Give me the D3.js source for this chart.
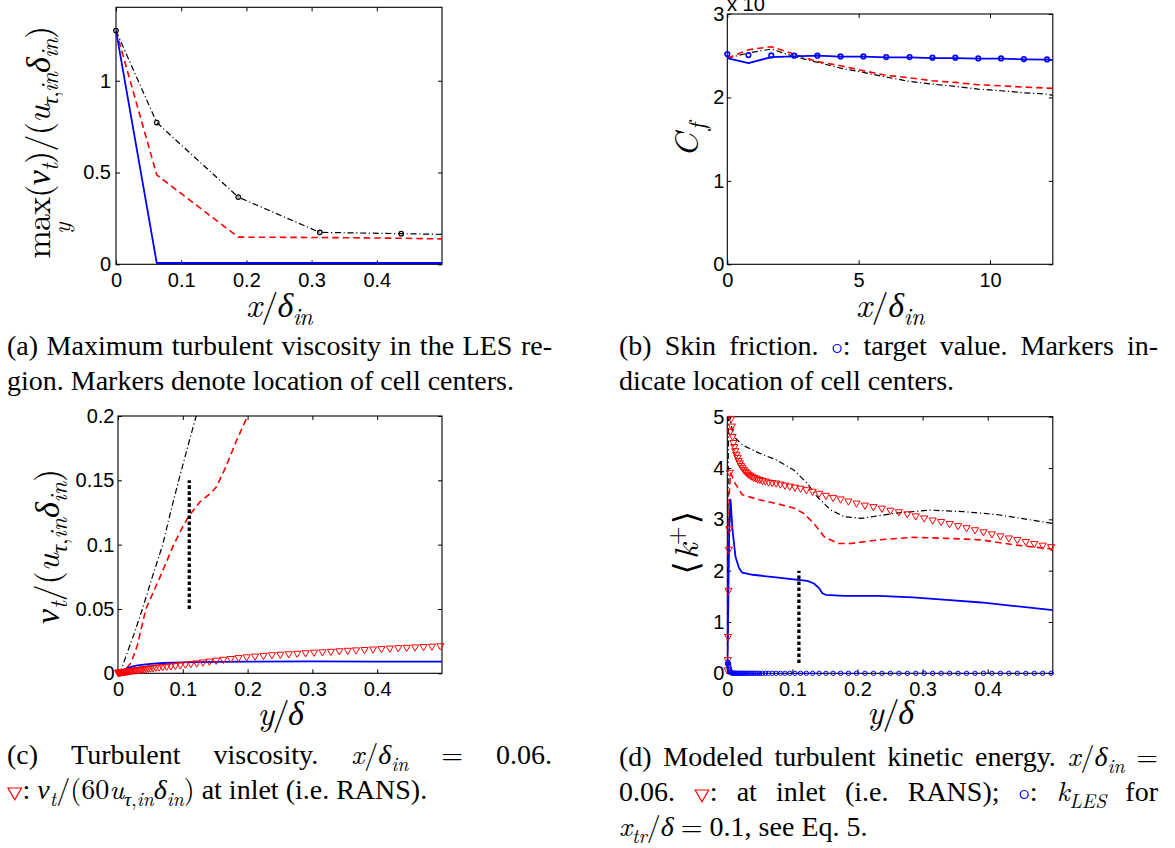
<!DOCTYPE html>
<html>
<head>
<meta charset="utf-8">
<script src="https://cdn.jsdelivr.net/npm/d3@7"></script>
<style>
  body { margin: 0; background: #fff; }
  svg { display: block; }
</style>
</head>
<body>
<svg id="fig" width="1175" height="848"></svg>
<script>
// ---------- (a) maximum turbulent viscosity vs x/delta_in ----------
const nuX          = [0, 0.0625, 0.1875, 0.3125, 0.4375, 0.5];
const nuMaxDashDot = [1.273, 0.772, 0.366, 0.174, 0.167, 0.163];
const nuMaxDashed  = [1.273, 0.487, 0.148, 0.146, 0.142, 0.138];
const nuMaxSolid   = [1.273, 0.007, 0.007, 0.007, 0.007, 0.007];
const cellCentersA = [0, 0.0625, 0.1875, 0.3125, 0.4375];
const cellNuMax    = [1.273, 0.772, 0.366, 0.174, 0.167];

// ---------- (b) skin friction (x 10^-3) ----------
const cfXCells  = [0, 0.805, 1.675, 2.545, 3.43, 4.31, 5.18, 6.05, 6.94, 7.81, 8.68, 9.55, 10.42, 11.29, 12.17];
const cfXLine   = [0, 0.805, 1.675, 2.545, 3.43, 4.31, 5.18, 6.05, 6.94, 7.81, 8.68, 9.55, 10.42, 11.29, 12.17, 12.39];
const cfTarget  = [2.52, 2.508, 2.504, 2.50, 2.50, 2.492, 2.492, 2.484, 2.484, 2.476, 2.476, 2.468, 2.468, 2.46, 2.456];
const cfSolid   = [2.472, 2.412, 2.484, 2.492, 2.5, 2.488, 2.488, 2.48, 2.48, 2.472, 2.472, 2.464, 2.464, 2.456, 2.452, 2.448];
const cfDashed  = [2.47, 2.572, 2.608, 2.52, 2.43, 2.38, 2.32, 2.265, 2.235, 2.2, 2.18, 2.152, 2.14, 2.124, 2.112, 2.108];
const cfDashDot = [2.472, 2.532, 2.58, 2.49, 2.42, 2.352, 2.3, 2.244, 2.192, 2.16, 2.132, 2.1, 2.08, 2.056, 2.04, 2.024];

// ---------- (c) turbulent viscosity profiles at x/delta_in = 0.06 ----------
const nuYDashDot = [0, 0.005, 0.015, 0.025, 0.0377, 0.053, 0.069, 0.081, 0.0937, 0.107, 0.1206, 0.135];
const nuDashDot  = [0, 0.003, 0.017, 0.031, 0.05, 0.075, 0.1, 0.125, 0.15, 0.175, 0.2, 0.225];
const nuYDashed  = [0, 0.01, 0.02, 0.03, 0.043, 0.065, 0.086, 0.1, 0.109, 0.126, 0.143, 0.152, 0.166, 0.183, 0.2, 0.21];
const nuDashed   = [0, 0.002, 0.008, 0.022, 0.05, 0.075, 0.1, 0.114, 0.122, 0.133, 0.14, 0.145, 0.16, 0.181, 0.2, 0.212];
const nuYSolid   = [0, 0.005, 0.01, 0.02, 0.03, 0.05, 0.07, 0.1, 0.15, 0.2, 0.3, 0.4, 0.5];
const nuSolid    = [0, 0.0015, 0.003, 0.005, 0.0062, 0.0073, 0.008, 0.0085, 0.0089, 0.0091, 0.0092, 0.0091, 0.009];

// RANS inlet grid (wall-normal cell centres, y/delta)
const ransY = [0.0003, 0.0007, 0.0012, 0.0018, 0.0024, 0.0031, 0.0039, 0.0048, 0.0058, 0.0069,
  0.0081, 0.0094, 0.0108, 0.0123, 0.0139, 0.0156, 0.0174, 0.0193, 0.0213, 0.0234,
  0.0256, 0.0279, 0.0303, 0.0328, 0.0354, 0.0381, 0.0409, 0.0438, 0.0468,
  0.0500, 0.0540, 0.0585, 0.0635, 0.0690, 0.0750, 0.0815, 0.0885, 0.0960, 0.1040,
  0.1125, 0.1215, 0.1310, 0.1410, 0.1515, 0.1625, 0.1740, 0.1860, 0.1985, 0.2115,
  0.2245, 0.2375, 0.2505, 0.2635, 0.2765, 0.2895, 0.3025, 0.3155, 0.3285, 0.3415,
  0.3545, 0.3675, 0.3805, 0.3935, 0.4065, 0.4195, 0.4325, 0.4455, 0.4585, 0.4715,
  0.4845, 0.4975];
// nu_t / (60 u_tau,in delta_in) at the inlet
const ransNu = [0.00002, 0.00005, 0.00008, 0.00013, 0.00017, 0.00022, 0.00027, 0.00034, 0.00041, 0.00048,
  0.00057, 0.00066, 0.00076, 0.00086, 0.00097, 0.00109, 0.00122, 0.00135, 0.00149, 0.00164,
  0.00179, 0.00195, 0.00212, 0.00229, 0.00247, 0.00266, 0.00286, 0.00306, 0.00327,
  0.0035, 0.0037, 0.0040, 0.0042, 0.0045, 0.0048, 0.0051, 0.0055, 0.0059, 0.0064,
  0.0069, 0.0074, 0.0081, 0.0088, 0.0095, 0.0102, 0.0108, 0.0115, 0.0121, 0.0127,
  0.0132, 0.0137, 0.0141, 0.0145, 0.0149, 0.0153, 0.0157, 0.0160, 0.0164, 0.0168,
  0.0172, 0.0175, 0.0178, 0.0182, 0.0185, 0.0189, 0.0192, 0.0195, 0.0198, 0.0201,
  0.0204, 0.0207];
// <k+> at the inlet
const ransK = [0.05, 0.25, 0.7, 1.6, 2.4, 2.8, 3.9, 4.7, 4.95, 4.8,
  4.6, 4.48, 4.4, 4.32, 4.25, 4.19, 4.13, 4.08, 4.03, 3.99,
  3.95, 3.92, 3.89, 3.86, 3.84, 3.82, 3.80, 3.79, 3.77,
  3.76, 3.74, 3.73, 3.71, 3.70, 3.69, 3.67, 3.65, 3.63, 3.61,
  3.59, 3.56, 3.53, 3.49, 3.45, 3.41, 3.38, 3.34, 3.30, 3.26,
  3.23, 3.20, 3.16, 3.13, 3.09, 3.05, 3.01, 2.97, 2.94, 2.90,
  2.86, 2.82, 2.78, 2.74, 2.70, 2.66, 2.62, 2.59, 2.55, 2.51,
  2.48, 2.45];
// k_LES for x_tr/delta = 0.1
const kLes = [0.18, 0.2, 0.21, 0.19, 0.15, 0.1, 0.06, 0.03, 0.015, 0.005,
  0.002, 0, 0, 0, 0, 0, 0, 0, 0, 0,
  0, 0, 0, 0, 0, 0, 0, 0, 0,
  0, 0, 0, 0, 0, 0, 0, 0, 0, 0,
  0, 0, 0, 0, 0, 0, 0, 0, 0, 0,
  0, 0, 0, 0, 0, 0, 0, 0, 0, 0,
  0, 0, 0, 0, 0, 0, 0, 0, 0, 0,
  0, 0];

// ---------- (d) modelled turbulent kinetic energy ----------
const kYDashDot = [0, 0.0008, 0.0015, 0.0025, 0.005, 0.008, 0.0126, 0.023, 0.049, 0.075, 0.102, 0.123, 0.138, 0.159, 0.18, 0.206, 0.259, 0.311, 0.363, 0.416, 0.5];
const kDashDot  = [0, 2.0, 4.2, 5.6, 4.9, 4.72, 4.58, 4.45, 4.29, 4.16, 3.96, 3.70, 3.44, 3.18, 3.05, 3.02, 3.12, 3.18, 3.15, 3.09, 2.92];
const kYDashed  = [0, 0.001, 0.002, 0.003, 0.005, 0.007, 0.012, 0.023, 0.049, 0.075, 0.102, 0.117, 0.133, 0.149, 0.17, 0.19, 0.232, 0.285, 0.337, 0.39, 0.442, 0.5];
const kDashed   = [0, 1.2, 2.6, 3.5, 3.9, 3.85, 3.7, 3.48, 3.38, 3.31, 3.22, 3.12, 2.92, 2.66, 2.53, 2.53, 2.60, 2.65, 2.63, 2.60, 2.50, 2.42];
const kYSolid   = [0, 0.001, 0.002, 0.003, 0.005, 0.008, 0.0126, 0.018, 0.023, 0.039, 0.075, 0.102, 0.123, 0.133, 0.141, 0.146, 0.151, 0.18, 0.232, 0.285, 0.337, 0.39, 0.442, 0.5];
const kSolid    = [0, 0.8, 1.9, 2.8, 3.38, 2.79, 2.27, 2.05, 1.96, 1.92, 1.87, 1.83, 1.80, 1.75, 1.66, 1.56, 1.53, 1.51, 1.51, 1.48, 1.43, 1.38, 1.31, 1.23];

// interface location marker x_tr
const xTr = 0.11;
const trNuRange = [0.05, 0.15];
const trKRange  = [0.2, 2.0];

// tick values
const ticksA_x = [0, 0.1, 0.2, 0.3, 0.4];
const ticksA_y = [0, 0.5, 1];
const ticksB_x = [0, 5, 10];
const ticksB_y = [0, 1, 2, 3];
const ticksC_y = [0, 0.05, 0.1, 0.15, 0.2];
const ticksD_y = [0, 1, 2, 3, 4, 5];

// captions ($...$ = math)
const captionA = [
  { t: "(a) Maximum turbulent viscosity in the LES re-", j: true },
  { t: "gion. Markers denote location of cell centers.", j: false }];
const captionB = [
  { t: "(b) Skin friction. ○: target value. Markers in-", j: true },
  { t: "dicate location of cell centers.", j: false }];
const captionC = [
  { t: "(c) Turbulent viscosity. $x/δ_{in}$ $=$ 0.06.", j: true },
  { t: "▽: $ν_t/(60u_{τ,in}δ_{in})$ at inlet (i.e. RANS).", j: false }];
const captionD = [
  { t: "(d) Modeled turbulent kinetic energy. $x/δ_{in}$ $=$", j: true },
  { t: "0.06. ▽: at inlet (i.e. RANS); ○: $k_{LES}$ for", j: true },
  { t: "$x_{tr}/δ$ $=$ 0.1, see Eq. 5.", j: false }];

// ================= drawing =================
const TEXT_FONT = '"Liberation Serif", monospace';
const MATH_FONT = '"Latin Modern Roman", monospace';
const GREEK_FONT = '"Liberation Serif", monospace';
const SANS_FONT = '"Liberation Sans", monospace';
const FS_TICK = 20, FS_LAB = 34, FS_CAP = 28;
const RED = "#ff0000", BLUE = "#0000ff";
const isGreek = c => /[\u0370-\u03FF]/.test(c);

const svg = d3.select("#fig");
const defs = svg.append("defs");
let clipN = 0;

function panel(o) {
  const x = d3.scaleLinear().domain(o.xd).range([o.x0, o.x1]);
  const y = d3.scaleLinear().domain(o.yd).range([o.y1, o.y0]);
  const g = svg.append("g");
  const id = "clip" + (clipN++);
  defs.append("clipPath").attr("id", id).append("rect")
    .attr("x", o.x0).attr("y", o.y0).attr("width", o.x1 - o.x0).attr("height", o.y1 - o.y0);
  const style = s => {
    s.attr("font-family", null).attr("font-size", null);
    s.select(".domain").remove();
    s.selectAll("line").attr("stroke", "#000").attr("stroke-width", 1);
    s.selectAll("text").attr("fill", "#000")
      .style("font-family", SANS_FONT).style("font-size", FS_TICK + "px");
  };
  const none = () => "";
  g.append("g").attr("transform", `translate(0,${o.y1})`)
    .call(d3.axisBottom(x).tickValues(o.xt).tickFormat(d => String(d)).tickSize(-4).tickPadding(8.5)).call(style);
  g.append("g").attr("transform", `translate(0,${o.y0})`)
    .call(d3.axisTop(x).tickValues(o.xt).tickFormat(none).tickSize(-4)).call(style);
  g.append("g").attr("transform", `translate(${o.x0},0)`)
    .call(d3.axisLeft(y).tickValues(o.yt).tickFormat(d => String(d)).tickSize(-4).tickPadding(o.ypad)).call(style);
  g.append("g").attr("transform", `translate(${o.x1},0)`)
    .call(d3.axisRight(y).tickValues(o.yt).tickFormat(none).tickSize(-4)).call(style);
  g.append("rect").attr("x", o.x0).attr("y", o.y0).attr("width", o.x1 - o.x0).attr("height", o.y1 - o.y0)
    .attr("fill", "none").attr("stroke", "#000").attr("stroke-width", 1.1);
  const plot = g.append("g").attr("clip-path", `url(#${id})`);
  const marks = g.append("g");
  return { x, y, g, plot, marks };
}

const LINE_STYLES = {
  dashdot: { stroke: "#000", width: 1.2, dash: "6,2.7,1.2,2.7" },
  dashed:  { stroke: RED, width: 1.6, dash: "6.5,4" },
  solid:   { stroke: BLUE, width: 1.8, dash: null }
};

function drawLine(p, xs, ys, kind) {
  const st = LINE_STYLES[kind];
  const line = d3.line().x(d => p.x(d[0])).y(d => p.y(d[1]));
  p.plot.append("path").datum(d3.zip(xs, ys)).attr("d", line)
    .attr("fill", "none").attr("stroke", st.stroke).attr("stroke-width", st.width)
    .attr("stroke-dasharray", st.dash).attr("stroke-linejoin", "round");
}

function drawCircles(p, xs, ys, color, r, w) {
  p.marks.selectAll(null).data(d3.zip(xs, ys)).join("circle")
    .attr("cx", d => p.x(d[0])).attr("cy", d => p.y(d[1])).attr("r", r)
    .attr("fill", "none").attr("stroke", color).attr("stroke-width", w);
}

function drawTriangles(p, xs, ys) {
  p.marks.selectAll(null).data(d3.zip(xs, ys)).join("path")
    .attr("transform", d => `translate(${p.x(d[0])},${p.y(d[1])})`)
    .attr("d", "M-3.6,-2.9L3.6,-2.9L0,3.3Z")
    .attr("fill", "none").attr("stroke", RED).attr("stroke-width", 1);
}

function drawTrLine(p, xv, range) {
  p.plot.append("path").datum([[xv, range[0]], [xv, range[1]]])
    .attr("d", d3.line().x(d => p.x(d[0])).y(d => p.y(d[1])))
    .attr("stroke", "#000").attr("stroke-width", 3.3).attr("stroke-dasharray", "3.6,2.4").attr("fill", "none");
}

// ---------- small math-text renderer: one <text> per run of uniform style ----------
const isLetter = c => /[A-Za-z\u0370-\u03FF]/.test(c);
function parseMath(str) {
  const runs = [];
  let math = false;
  const seg = (t, style, shift, m) => {
    const last = runs[runs.length - 1];
    if (last && !last.marker && last.style === style && last.shift === shift && last.m === m) last.t += t;
    else runs.push({ t, style, shift, m });
  };
  for (let i = 0; i < str.length; i++) {
    const c = str[i];
    if (c === "$") { math = !math; continue; }
    if (c === "▽" || c === "○") { runs.push({ marker: c }); continue; }
    if (math && str.startsWith("\\max", i)) { seg("max", "r", "base", "m"); i += 3; continue; }
    if (math && (c === "_" || c === "^")) {
      let grp;
      if (str[i + 1] === "{") { const j = str.indexOf("}", i); grp = str.slice(i + 2, j); i = j; }
      else { grp = str[i + 1]; i++; }
      for (const ch of grp) seg(ch, isLetter(ch) ? "i" : "r", c === "_" ? "sub" : "sup", isGreek(ch) ? "g" : "m");
      continue;
    }
    seg(c, math && isLetter(c) ? "i" : "r", "base", math ? (isGreek(c) ? "g" : "m") : "t");
  }
  return runs;
}

const FONT_OF = { t: TEXT_FONT, m: MATH_FONT, g: GREEK_FONT };

function renderMath(parent, str, fs, ls) {
  const g = parent.append("g");
  let cx = 0;
  parseMath(str).forEach(r => {
    if (r.marker === "▽") {
      g.append("path").attr("d", `M${cx + 1},${-11}L${cx + 14.5},${-11}L${cx + 7.75},${0.8}Z`)
        .attr("fill", "none").attr("stroke", RED).attr("stroke-width", 1.2);
      cx += 15.5; return;
    }
    if (r.marker === "○") {
      g.append("circle").attr("cx", cx + 5.5).attr("cy", -6.5).attr("r", 4)
        .attr("fill", "none").attr("stroke", BLUE).attr("stroke-width", 1.2);
      cx += 11; return;
    }
    const dy = r.shift === "sub" ? 0.24 * fs : r.shift === "sup" ? -0.4 * fs : 0;
    const size = r.shift === "base" ? fs : 0.7 * fs;
    const t = g.append("text").attr("x", cx).attr("y", dy).attr("fill", "#000")
      .style("font-family", FONT_OF[r.m])
      .style("font-size", size + "px")
      .style("font-style", r.style === "i" ? "italic" : "normal")
      .text(r.t);
    if (ls) t.style("letter-spacing", ls + "px");
    cx += t.node().getComputedTextLength();
  });
  return { g, width: cx };
}

// label fitted to a given length, placed centred at (cx, base); rotated if vertical
function axisLabel(str, cx, base, target, vertical, extra) {
  const holder = svg.append("g");
  let m = renderMath(holder, str, FS_LAB);
  const n = str.replace(/[\$_^{}\\]/g, "").length;
  const ls = Math.max(-1.5, Math.min(4, (target - m.width) / n));
  m.g.remove();
  m = renderMath(holder, str, FS_LAB, ls);
  m.g.attr("transform", `translate(${-m.width / 2},0)`);
  if (vertical) holder.attr("transform", `translate(${base},${cx}) rotate(-90)`);
  else holder.attr("transform", `translate(${cx},${base})`);
  if (extra) extra(m, holder, ls);
}

const capLayer = svg.append("g");
function caption(lines, x0, x1, yb, lead) {
  lines.forEach((ln, i) => {
    const y = yb + i * lead;
    const words = ln.t.split(" ").map(w => renderMath(capLayer, w, FS_CAP));
    const tot = d3.sum(words, w => w.width);
    const gap = ln.j ? (x1 - x0 - tot) / (words.length - 1) : 7;
    let cx = x0;
    words.forEach(w => { w.g.attr("transform", `translate(${cx},${y})`); cx += w.width + gap; });
  });
}

// ---------- panel (a) ----------
const pA = panel({ x0: 116, x1: 442, y0: 7.3, y1: 264.3, xd: [0, 0.5], yd: [0, 1.4],
  xt: ticksA_x, yt: ticksA_y, ypad: 5 });
drawLine(pA, nuX, nuMaxDashDot, "dashdot");
drawLine(pA, nuX, nuMaxDashed, "dashed");
drawLine(pA, nuX, nuMaxSolid, "solid");
drawCircles(pA, cellCentersA, cellNuMax, "#000", 2.3, 1.2);
axisLabel("$x/δ_{in}$", 279, 317, 66, false);
axisLabel("$\\max(ν_t)/(u_{τ,in}δ_{in})$", 142.5, 50, 232, true, (m, holder, ls) => {
  // limit subscript under "max"
  const probe = holder.append("text").style("font-family", MATH_FONT).style("font-size", FS_LAB + "px")
    .style("letter-spacing", ls + "px").text("max");
  const w = probe.node().getComputedTextLength();
  probe.remove();
  holder.append("text").attr("x", -m.width / 2 + w / 2).attr("y", 20)
    .attr("text-anchor", "middle").style("font-family", MATH_FONT).style("font-style", "italic")
    .style("font-size", (0.7 * FS_LAB) + "px").text("y");
});

// ---------- panel (b) ----------
const pB = panel({ x0: 727.3, x1: 1052.8, y0: 14, y1: 264.3, xd: [0, 12.39], yd: [0, 3],
  xt: ticksB_x, yt: ticksB_y, ypad: 3 });
drawLine(pB, cfXLine, cfDashDot, "dashdot");
drawLine(pB, cfXLine, cfDashed, "dashed");
drawLine(pB, cfXLine, cfSolid, "solid");
drawCircles(pB, cfXCells, cfTarget, BLUE, 2.3, 1.6);
svg.append("text").attr("x", 727).attr("y", 11)
  .style("font-family", SANS_FONT).style("font-size", FS_TICK + "px")
  .style("white-space", "pre").text("x 10");
axisLabel("$x/δ_{in}$", 890, 317, 68, false);
axisLabel("$C_f$", 139, 698, 37, true);

// ---------- panel (c) ----------
const pC = panel({ x0: 118, x1: 442, y0: 416, y1: 673.3, xd: [0, 0.5], yd: [0, 0.2],
  xt: ticksA_x, yt: ticksC_y, ypad: 3.5 });
drawLine(pC, nuYDashDot, nuDashDot, "dashdot");
drawLine(pC, nuYDashed, nuDashed, "dashed");
drawLine(pC, nuYSolid, nuSolid, "solid");
drawTrLine(pC, xTr, trNuRange);
drawTriangles(pC, ransY, ransNu);
axisLabel("$y/δ$", 280, 725, 44, false);
axisLabel("$ν_t/(u_{τ,in}δ_{in})$", 546.5, 59, 155, true);

// ---------- panel (d) ----------
const pD = panel({ x0: 727.3, x1: 1052.8, y0: 416.7, y1: 673.3, xd: [0, 0.5], yd: [0, 5],
  xt: ticksA_x, yt: ticksD_y, ypad: 3 });
drawLine(pD, kYDashDot, kDashDot, "dashdot");
drawLine(pD, kYDashed, kDashed, "dashed");
drawLine(pD, kYSolid, kSolid, "solid");
drawTrLine(pD, xTr, trKRange);
drawTriangles(pD, ransY, ransK);
drawCircles(pD, ransY, kLes, BLUE, 2.2, 1);
axisLabel("$y/δ$", 890, 724, 46, false);
axisLabel("$⟨k^+⟩$", 543.5, 698, 63, true);

// ---------- captions ----------
caption(captionA, 7, 552, 355, 35);
caption(captionB, 619, 1158, 355, 35);
caption(captionC, 7, 552, 764, 35);
caption(captionD, 619, 1158, 766, 35);
</script>
</body>
</html>
